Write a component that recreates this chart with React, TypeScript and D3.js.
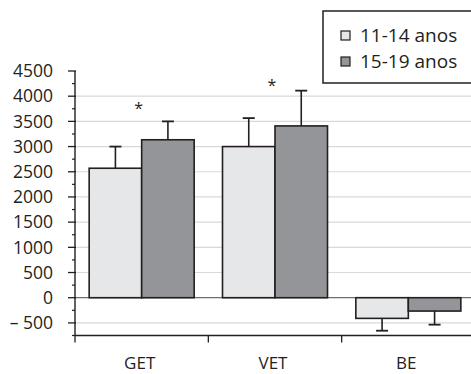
import React from "react";
import * as d3 from "d3";

const categories = ["GET", "VET", "BE"];
const seriesNames = ["11-14 anos", "15-19 anos"];
const means1114 = [2570, 3000, -410];
const means1519 = [3135, 3410, -265];
const err1114 = [430, 565, 245];
const err1519 = [365, 700, 270];
const sigCats = ["GET", "VET"];
const sigValues = [3810, 4270];
const majorTicks = [-500, 0, 500, 1000, 1500, 2000, 2500, 3000, 3500, 4000, 4500];

const W = 471;
const H = 374;
const fills = ["#e6e7e8", "#939598"];
const ink = "#231f20";
const font = "'Open Sans', 'Noto Sans', sans-serif";

const App = () => {
  const y = d3.scaleLinear().domain([-750, 4500]).range([335.5, 71]);
  const x = d3
    .scaleBand()
    .domain(categories)
    .range([75, 475])
    .paddingInner(0.2125)
    .paddingOuter(0.10625);
  const xs = d3.scaleBand().domain(seriesNames).range([0, x.bandwidth()]);

  const rows = categories.map((c, i) => ({
    cat: c,
    vals: [
      { s: seriesNames[0], v: means1114[i], e: err1114[i] },
      { s: seriesNames[1], v: means1519[i], e: err1519[i] },
    ],
  }));

  const minorTicks = d3.range(-750, 4500, 250).filter((t) => !majorTicks.includes(t));
  const gridTicks = majorTicks.filter((t) => t !== 0 && t !== 4500);
  const x0 = x.range()[0];
  const x1 = x.range()[1];
  const bounds = [x0, ...categories.slice(1).map((c) => x(c) - (x.step() * x.paddingInner()) / 2), x1];
  const fmt = (t) => (t < 0 ? "\u2013 " + Math.abs(t) : String(t));

  return (
    <svg width={W} height={H} style={{ position: "absolute", left: 0, top: 0, background: "#fff" }}>
      {/* grid */}
      {gridTicks.map((t) => (
        <line key={"g" + t} x1={x0} x2={x1} y1={y(t)} y2={y(t)} stroke="#d9d9da" strokeWidth={1.2} />
      ))}
      <line x1={x0} x2={x1} y1={y(0)} y2={y(0)} stroke="#6d6e71" strokeWidth={1.2} />

      {/* bars + error bars */}
      {rows.map((r) =>
        r.vals.map((d, j) => {
          const bx = x(r.cat) + xs(d.s);
          const bw = xs.bandwidth();
          const top = Math.min(y(d.v), y(0));
          const h = Math.abs(y(d.v) - y(0));
          const cx = bx + bw / 2;
          const tip = d.v >= 0 ? d.v + d.e : d.v - d.e;
          return (
            <g key={r.cat + j}>
              <line x1={cx} x2={cx} y1={y(d.v)} y2={y(tip)} stroke={ink} strokeWidth={1.6} />
              <line x1={cx - 6} x2={cx + 6} y1={y(tip)} y2={y(tip)} stroke={ink} strokeWidth={1.8} />
              <rect x={bx} y={top} width={bw} height={h} fill={fills[j]} stroke={ink} strokeWidth={1.6} />
            </g>
          );
        })
      )}

      {/* significance marks */}
      {sigCats.map((c, i) => (
        <text
          key={"s" + c}
          x={x(c) + x.bandwidth() / 2 - 3}
          y={y(sigValues[i]) + 8.5}
          textAnchor="middle"
          fontFamily={font}
          fontSize={16}
          fill={ink}
        >
          *
        </text>
      ))}

      {/* y axis */}
      <line x1={x0} x2={x0} y1={y(4500)} y2={y(-750)} stroke={ink} strokeWidth={1.4} />
      {majorTicks.map((t) => (
        <g key={"y" + t}>
          <line x1={x0 - 7} x2={x0 + 1} y1={y(t)} y2={y(t)} stroke={ink} strokeWidth={1.3} />
          <text
            x={x0 - 22}
            y={y(t)}
            dy="0.36em"
            textAnchor="end"
            fontFamily={font}
            fontSize={17.5}
            fill={ink}
          >
            {fmt(t)}
          </text>
        </g>
      ))}
      {minorTicks.map((t) => (
        <line key={"m" + t} x1={x0 - 3} x2={x0} y1={y(t)} y2={y(t)} stroke={ink} strokeWidth={1.2} />
      ))}

      {/* x axis */}
      <line x1={x0} x2={x1} y1={y(-750)} y2={y(-750)} stroke={ink} strokeWidth={1.4} />
      {bounds.map((b, i) => (
        <line key={"xt" + i} x1={b} x2={b} y1={y(-750)} y2={y(-750) + 7} stroke={ink} strokeWidth={1.3} />
      ))}
      {categories.map((c) => (
        <text
          key={"xl" + c}
          x={x(c) + x.bandwidth() / 2 - 2}
          y={368.5}
          textAnchor="middle"
          fontFamily={font}
          fontSize={17}
          fill={ink}
        >
          {c}
        </text>
      ))}

      {/* legend */}
      <rect x={323} y={11} width={160} height={72} fill="#fff" stroke={ink} strokeWidth={1.5} />
      {seriesNames.map((s, i) => (
        <g key={"l" + s} transform={`translate(341, ${31 + i * 26})`}>
          <rect x={0} y={0} width={9} height={9} fill={fills[i]} stroke={ink} strokeWidth={1.2} />
          <text x={19} y={4.5} dy="0.36em" fontFamily={font} fontSize={19} fill={ink}>
            {s}
          </text>
        </g>
      ))}
    </svg>
  );
};

export default App;
